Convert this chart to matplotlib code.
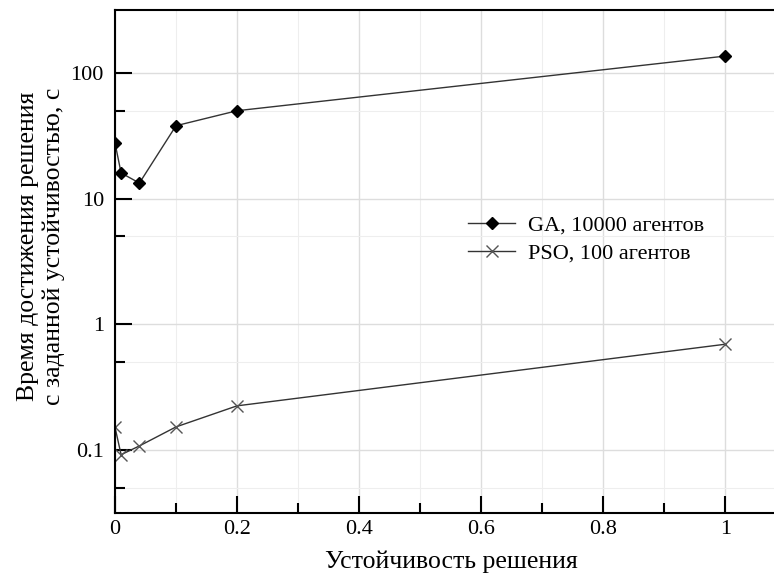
import matplotlib.pyplot as plt
from matplotlib.ticker import FixedLocator, MultipleLocator, NullFormatter

plt.rcParams['font.family'] = ['Liberation Serif', 'DejaVu Serif']

# stability threshold values
x_vals = [0, 0.01, 0.04, 0.1, 0.2, 1.0]
ga_time = [27.7, 16.0, 13.3, 38.0, 50.0, 136.0]
pso_time = [0.152, 0.092, 0.108, 0.153, 0.225, 0.695]

ga_label = "GA, 10000 агентов"
pso_label = "PSO, 100 агентов"

fig = plt.figure(figsize=(7.74, 5.79), dpi=100)
ax = fig.add_axes([115 / 774, 1 - 513 / 579, 1 - 115 / 774, (513 - 10) / 579])

ax.plot(x_vals, ga_time, color="#333333", linewidth=1.0, marker="D",
        markersize=6, markerfacecolor="black", markeredgecolor="black",
        label=ga_label)
ax.plot(x_vals, pso_time, color="#333333", linewidth=1.0, marker="x",
        markersize=9, markeredgewidth=1.0, markeredgecolor="#555555",
        label=pso_label)

ax.set_yscale("log")
ax.set_ylim(10 ** -1.5, 10 ** 2.5)
ax.set_xlim(0, 1.08)

ax.yaxis.set_major_locator(FixedLocator([0.1, 1, 10, 100]))
ax.set_yticklabels(["0.1", "1", "10", "100"])
ax.yaxis.set_minor_locator(FixedLocator([0.05, 0.5, 5, 50]))
ax.yaxis.set_minor_formatter(NullFormatter())

ax.xaxis.set_major_locator(FixedLocator([0, 0.2, 0.4, 0.6, 0.8, 1.0]))
ax.set_xticklabels(["0", "0.2", "0.4", "0.6", "0.8", "1"])
ax.xaxis.set_minor_locator(MultipleLocator(0.1))

ax.grid(which="major", color="#dddddd", linewidth=1.0)
ax.grid(which="minor", color="#eeeeee", linewidth=0.8)
ax.set_axisbelow(True)

ax.tick_params(which="major", direction="in", length=12, width=1.5,
               labelsize=16)
ax.tick_params(axis="y", which="major", pad=8)
ax.tick_params(axis="x", which="major", pad=5)
ax.tick_params(which="minor", direction="in", length=7, width=1.5)
ax.tick_params(axis="both", which="both", top=False, right=False)

for side in ["left", "bottom", "top"]:
    ax.spines[side].set_linewidth(1.5)
ax.spines["right"].set_visible(False)

ax.set_xlabel("Устойчивость решения", fontsize=18.5)
ax.xaxis.set_label_coords(0.511, -0.0755)
ax.set_ylabel("Время достижения решения\nс заданной устойчивостью, с",
              fontsize=18.5, linespacing=1.2)
ax.yaxis.set_label_coords(-0.076, 0.53)

ax.legend(loc="center left", bbox_to_anchor=(0.506, 0.544), frameon=False,
          fontsize=16, handlelength=2.1, handletextpad=0.6,
          labelspacing=0.35)

plt.savefig("out.png", dpi=100)
